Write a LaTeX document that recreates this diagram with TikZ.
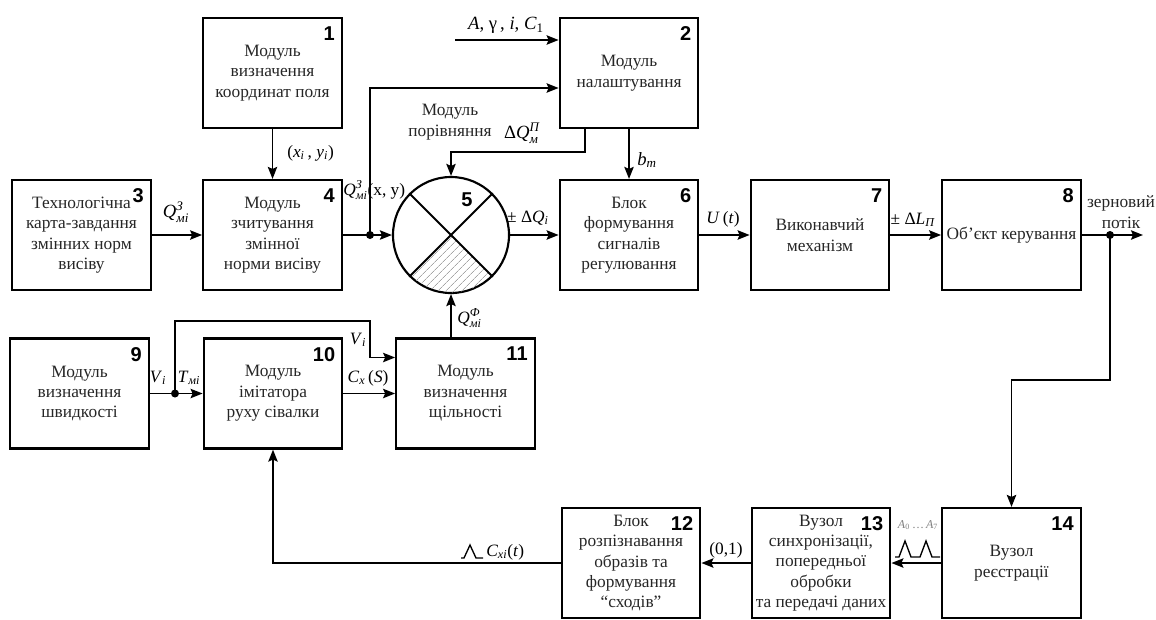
\documentclass[tikz,border=0pt]{standalone}
\usepackage{fontspec}
\setmainfont{Liberation Serif}
\setsansfont{Liberation Sans}
\usepackage{amsmath}
\usetikzlibrary{arrows.meta,patterns.meta}
\newcommand\itx[1]{\textit{#1}}
\tikzset{
 box/.style={draw, line width=1.6pt, minimum width=104pt, minimum height=82.5pt, inner sep=0pt, align=center, text=black!85, font=\fontsize{13}{15.3}\selectfont},
 num/.style={font=\sffamily\bfseries\fontsize{15}{15}\selectfont, inner sep=0pt, anchor=north east},
 arr/.style={line width=1.4pt, -{Stealth[length=9pt,width=7pt,inset=1.5pt]}},
 ln/.style={line width=1.4pt},
 lab/.style={font=\fontsize{13}{15}\selectfont, inner sep=0pt},
 txt/.style={font=\fontsize{13}{15.3}\selectfont, inner sep=0pt, align=center, text=black!85},
 dot/.style={circle, fill, inner sep=0pt, minimum size=6pt},
 pulse/.style={line width=1pt},
}
\begin{document}
\begin{tikzpicture}[x=0.75pt,y=-0.75pt]
\useasboundingbox (0,0) rectangle (1156,619);
% boxes
\node[box] (b1) at (272.5,73) {Модуль\\визначення\\координат поля};
\node[box] (b2) at (629,73) {Модуль\\налаштування};
\node[box] (b3) at (81.5,235) {Технологічна\\карта-завдання\\змінних норм\\висіву};
\node[box] (b4) at (272.5,235) {Модуль\\зчитування\\змінної\\норми висіву};
\node[box] (b6) at (629,235) {Блок\\формування\\сигналів\\регулювання};
\node[box] (b7) at (820,235) {Виконавчий\\механізм};
\node[box] (b8) at (1011.5,235) {Об’єкт керування};
\node[box] (b9) at (79.5,393.5) {Модуль\\визначення\\швидкості};
\node[box] (b10) at (273,393.5) {Модуль\\імітатора\\руху сівалки};
\node[box] (b11) at (465.5,393.5) {Модуль\\визначення\\щільності};
\node[box] (b12) at (631,563) {Блок\\розпізнавання\\образів та\\формування\\“сходів”};
\node[box] (b13) at (821,563) {Вузол\\синхронізації,\\попередньої\\обробки\\та передачі даних};
\node[box] (b14) at (1011.5,563) {Вузол\\реєстрації};
% numbers
\foreach \b/\n in {b1/1,b2/2,b3/3,b4/4,b6/6,b7/7,b8/8,b9/9,b10/10,b11/11,b12/12,b13/13,b14/14}
  \node[num] (n\n) at ([xshift=-6pt,yshift=-7pt]\b.north east) {\n};
% comparator
\node[draw, circle, line width=1.6pt, minimum size=87pt, inner sep=0pt] (c) at (451,235) {};
\begin{scope}
\clip (c.center) circle[radius=43pt];
\fill[pattern={Lines[angle=45,distance=4pt,line width=0.5pt]}, pattern color=gray!70]
  (c.center) -- ++(-50pt,-50pt) -- ++(100pt,0pt) -- cycle;
\end{scope}
\draw[ln] (c.45) -- (c.225);
\draw[ln] (c.135) -- (c.315);
\node[num, anchor=center] (n5) at (467,200) {5};
% connectors
\coordinate (j1) at (370,235);
\coordinate (in2) at (455,40);
\coordinate (j2) at (1110,235);
\coordinate (out) at (1143,235);
\coordinate (k2) at (1110,380);
\coordinate (j3) at (175,393.5);
\coordinate (k3) at (370,321);
\draw[arr] (b1.south) -- (b4.north);
\draw[arr] (b3.east) -- (b4.west);
\draw[arr] (b4.east) -- (c.west);
\node[dot] (d1) at (j1) {};
\draw[arr] (j1) |- ([yshift=-11.25pt]b2.west);
\draw[arr] (in2) -- (in2 -| b2.west);
\draw[arr] ([xshift=-33pt]b2.south) |- (c.north |- 0,152) -- (c.north);
\draw[arr] (b2.south) -- (b6.north);
\draw[arr] (c.east) -- (b6.west);
\draw[arr] (b6.east) -- (b7.west);
\draw[arr] (b7.east) -- (b8.west);
\draw[arr] (b8.east) -- (out);
\node[dot] (d2) at (j2) {};
\draw[arr] (j2) -- (k2) -| (b14.north);
\draw[arr] (b14.west) -- (b13.east);
\draw[arr] (b13.west) -- (b12.east);
\draw[arr] (b12.west) -| (b10.south);
\draw[arr] (b9.east) -- (b10.west);
\node[dot] (d3) at (j3) {};
\draw[arr] (j3) |- (k3) |- ([yshift=27pt]b11.west);
\draw[arr] (b10.east) -- (b11.west);
\draw[arr] (c.south |- b11.north) -- (c.south);
% labels
\node[lab, anchor=west] (l1) at (287,153) {(\itx{x}\textsubscript{\itx{i}}\,, \itx{y}\textsubscript{\itx{i}})};
\node[lab] (l2) at (176,212) {\fontsize{14}{16}\selectfont$\itx{Q}^{\itx{З}}_{\itx{мі}}$};
\node[lab, anchor=west] (l3) at (343,190) {$\itx{Q}^{\itx{З}}_{\itx{мі}}$(x, y)};
\node[txt] (l4) at (450,122) {Модуль\\порівняння};
\node[lab] (l5) at (522,133) {\fontsize{14}{16}\selectfont Δ$\itx{Q}^{\itx{П}}_{\itx{м}}$};
\node[lab] (l6) at (506,25) {\fontsize{14}{16}\selectfont\itx{A}, γ\,, \itx{i}, \itx{C}\textsubscript{1}};
\node[lab, anchor=west] (l7) at (637,160) {\fontsize{14}{16}\selectfont\itx{b}\textsubscript{\itx{m}}};
\node[lab] (l8) at (528,218) {± Δ\itx{Q}\textsubscript{\itx{i}}};
\node[lab] (l9) at (723,219) {\itx{U}\,(\itx{t})};
\node[lab] (l10) at (913,220) {± Δ\itx{L}\textsubscript{\itx{П}}};
\node[txt] (l11) at (1121,212) {зерновий\\потік};
\node[lab, anchor=west] (l12) at (457,318) {$\itx{Q}^{\itx{Ф}}_{\itx{мі}}$};
\node[lab] (l13) at (358,340) {\itx{V}\textsubscript{\itx{i}}};
\node[lab] (l14) at (368,378) {\itx{C}\textsubscript{\itx{x}}\,(\itx{S})};
\node[lab] (l15) at (158,378) {\itx{V}\textsubscript{\itx{i}}};
\node[lab] (l16) at (189,378) {\itx{T}\textsubscript{\itx{мі}}};
\node[lab] (l17) at (726,550) {(0,1)};
\node[lab, text=gray, font=\fontsize{9}{10}\selectfont] (l18) at (918,525) {\itx{A}\textsubscript{0}\,…\,\itx{A}\textsubscript{7}};
\node[lab, anchor=west] (l19) at (486,552) {\itx{C}\textsubscript{\itx{xi}}(\itx{t})};
% pulses
\draw[pulse] (895,557) -- (899,557) -- (905,541) -- (911,557) -- (920,557) -- (926,541) -- (932,557) -- (940,557);
\draw[pulse] (461,558) -- (464,558) -- (470,545) -- (476,558) -- (483,558);
\end{tikzpicture}
\end{document}
